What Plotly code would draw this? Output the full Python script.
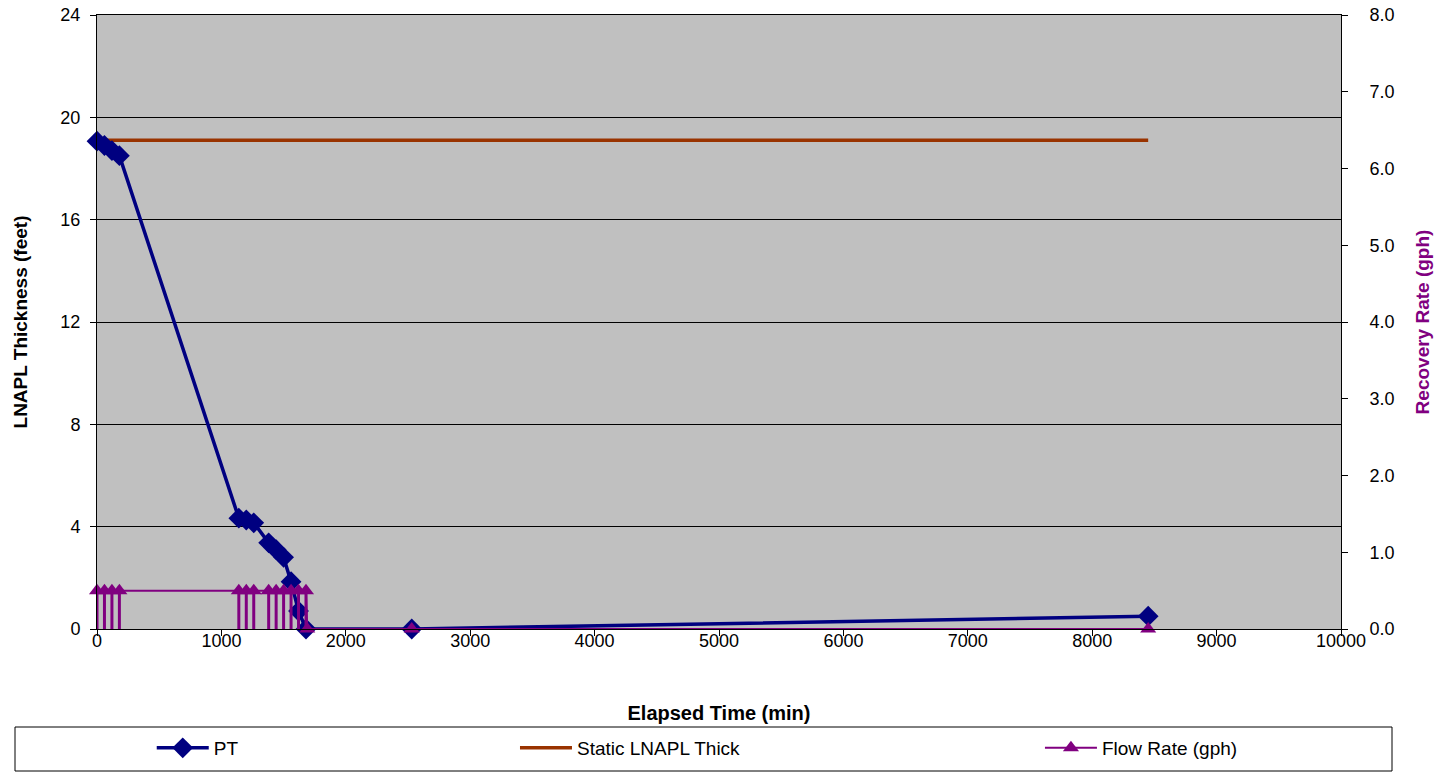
import plotly.graph_objects as go

# ---- data ----
pt_time = [0, 60, 120, 180, 1140, 1200, 1260, 1380, 1440, 1500, 1560, 1620, 1680, 2530, 8450]
pt_thick = [19.07, 18.9, 18.7, 18.5, 4.33, 4.26, 4.15, 3.37, 3.1, 2.8, 1.85, 0.7, 0.0, 0.0, 0.5]

static_time = [0, 8450]
static_thick = [19.1, 19.1]

flow_time = [0, 60, 120, 180, 1140, 1200, 1260, 1380, 1440, 1500, 1560, 1620, 1680, 1690, 2530, 8450]
flow_rate = [0.5, 0.5, 0.5, 0.5, 0.5, 0.5, 0.5, 0.5, 0.5, 0.5, 0.5, 0.5, 0.5, 0.0, 0.0, 0.0]

x_ticks = list(range(0, 10001, 1000))
x_labels = [str(v) for v in x_ticks]
y_ticks = [0, 4, 8, 12, 16, 20, 24]
y2_ticks = [0, 1, 2, 3, 4, 5, 6, 7, 8]

FONT = "Arial, Liberation Sans, sans-serif"
NAVY = "#000080"
BROWN = "#993300"
PURPLE = "#800080"

fig = go.Figure()

fig.add_trace(go.Scatter(
    x=static_time, y=static_thick, mode="lines", name="Static LNAPL Thick",
    line=dict(color=BROWN, width=3.5), legend="legend2", cliponaxis=False))

fig.add_trace(go.Scatter(
    x=flow_time, y=flow_rate, mode="lines+markers", name="Flow Rate (gph)",
    line=dict(color=PURPLE, width=2),
    marker=dict(symbol="triangle-up", size=14, color=PURPLE),
    error_y=dict(type="data", symmetric=False, array=[0] * len(flow_rate),
                 arrayminus=flow_rate, color=PURPLE, thickness=3, width=0),
    yaxis="y2", legend="legend3", cliponaxis=False))

fig.add_trace(go.Scatter(
    x=pt_time, y=pt_thick, mode="lines+markers", name="PT",
    line=dict(color=NAVY, width=3.5),
    marker=dict(symbol="diamond", size=16, color=NAVY),
    legend="legend", cliponaxis=False))

leg_common = dict(orientation="h", yanchor="middle", y=(629 - 748) / 614,
                  xanchor="left",
                  font=dict(family=FONT, size=19, color="black"),
                  bgcolor="rgba(0,0,0,0)", itemwidth=52)

fig.update_layout(
    width=1450, height=777,
    margin=dict(l=97, r=109, t=15, b=148, autoexpand=False),
    paper_bgcolor="white", plot_bgcolor="#C0C0C0",
    font=dict(family=FONT, size=18, color="black"),
    showlegend=True,
    legend=dict(x=0.044, **leg_common),
    legend2=dict(x=0.336, **leg_common),
    legend3=dict(x=0.758, **leg_common),
    xaxis=dict(range=[0, 10000], tickvals=x_ticks, ticktext=x_labels,
               ticks="outside", ticklen=6, ticklabelstandoff=-11,
               tickcolor="black", showline=True, linecolor="black", linewidth=1,
               mirror=True, showgrid=False, zeroline=False,
               tickfont=dict(family=FONT, size=18),
               title=dict(text="<b>Elapsed Time (min)</b>", standoff=56,
                          font=dict(family=FONT, size=20))),
    yaxis=dict(range=[0, 24], tickvals=y_ticks, ticks="outside", ticklen=6,
               ticklabelstandoff=6, ticklabeloverflow="allow",
               tickcolor="black", showline=True, linecolor="black", linewidth=1,
               mirror=True, showgrid=True, gridcolor="black", gridwidth=1,
               zeroline=False, tickfont=dict(family=FONT, size=18),
               title=dict(text="<b>LNAPL Thickness (feet)</b>", standoff=27,
                          font=dict(family=FONT, size=19))),
    yaxis2=dict(range=[0, 8], tickvals=y2_ticks, tickformat=".1f", overlaying="y",
                side="right", ticks="outside", ticklen=6, ticklabelstandoff=18,
                ticklabeloverflow="allow", tickcolor="black",
                showline=True, linecolor="black", linewidth=1, showgrid=False,
                zeroline=False, tickfont=dict(family=FONT, size=18),
                title=dict(text="<b>Recovery Rate (gph)</b>", standoff=22,
                           font=dict(family=FONT, size=19, color=PURPLE))),
    shapes=[dict(type="rect", xref="paper", yref="paper",
                 x0=(15 - 97) / 1244, x1=(1392 - 97) / 1244,
                 y0=(629 - 771) / 614, y1=(629 - 727) / 614,
                 line=dict(color="black", width=1), fillcolor="rgba(0,0,0,0)")],
)

fig.write_html("out.html", config={"displayModeBar": False},
               post_script="document.body.style.margin='0';document.body.style.overflow='hidden';")
